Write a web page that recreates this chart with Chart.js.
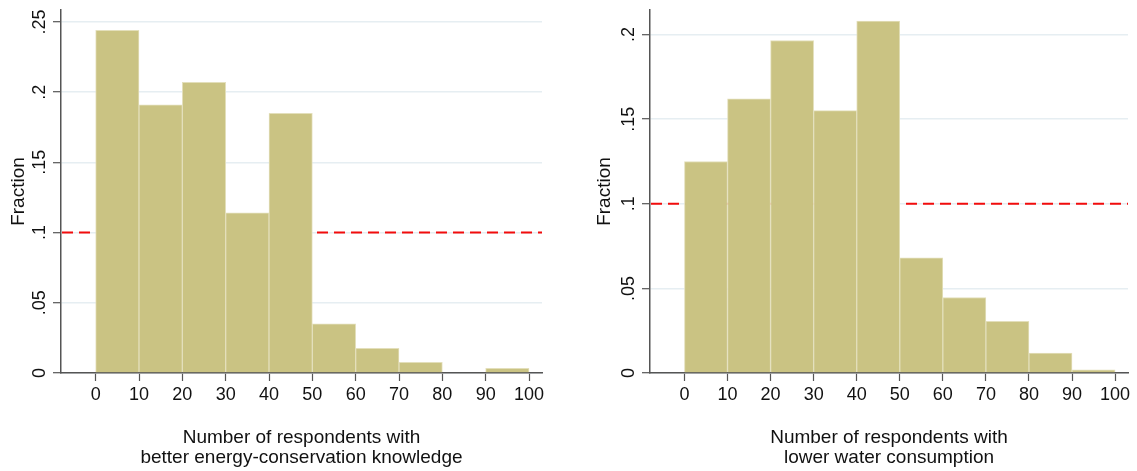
<!DOCTYPE html>
<html>
<head>
<meta charset="utf-8">
<script src="https://cdn.jsdelivr.net/npm/chart.js@4/dist/chart.umd.min.js"></script>
<style>
    body { margin: 0; background: #fff; }
    #wrap { position: relative; width: 1137px; height: 471px; }
    canvas { position: absolute; top: 0; }
</style>
</head>
<body>
<div id="wrap">
    <canvas id="energyChart" width="568" height="471" style="left:0"></canvas>
    <canvas id="waterChart" width="569" height="471" style="left:568px"></canvas>
</div>
<script>
// Histogram bins (lower edge of each 10-wide bin)
const binStarts = [0, 10, 20, 30, 40, 50, 60, 70, 80, 90];
const binWidth = 10;

// Fraction of respondents per bin
const energyFraction = [0.244, 0.191, 0.207, 0.114, 0.185, 0.035, 0.0175, 0.0076, 0, 0.0033];
const waterFraction = [0.125, 0.162, 0.1965, 0.155, 0.208, 0.068, 0.0446, 0.0305, 0.0118, 0.0018];

// Axis ticks
const xTicks = [0, 10, 20, 30, 40, 50, 60, 70, 80, 90, 100];
const energyYTicks = [0, 0.05, 0.1, 0.15, 0.2, 0.25];
const energyYLabels = ['0', '.05', '.1', '.15', '.2', '.25'];
const waterYTicks = [0, 0.05, 0.1, 0.15, 0.2];
const waterYLabels = ['0', '.05', '.1', '.15', '.2'];

// Reference line (dashed red)
const refLine = 0.1;

const axisColor = '#555555';
const gridColor = '#e6eef2';
const barFill = '#cac383';
const barEdge = '#e3dfbb';
const fontFamily = '"Liberation Sans", Arial, Helvetica, sans-serif';

// Dashed reference line behind the bars + rotated Stata-style y tick labels
const stataExtras = {
    id: 'stataExtras',
    beforeDatasetsDraw: function(chart, args, opts) {
        const ctx = chart.ctx;
        const area = chart.chartArea;
        const y = chart.scales.y.getPixelForValue(opts.refLine);
        ctx.save();
        ctx.strokeStyle = '#f20c0c';
        ctx.lineWidth = 2;
        ctx.setLineDash([11, 6]);
        ctx.beginPath();
        ctx.moveTo(area.left + 1, y);
        ctx.lineTo(area.right, y);
        ctx.stroke();
        ctx.restore();
    },
    afterDraw: function(chart, args, opts) {
        const ctx = chart.ctx;
        const yScale = chart.scales.y;
        const x = chart.chartArea.left - 21;
        ctx.save();
        ctx.fillStyle = '#111';
        ctx.font = '18px ' + fontFamily;
        ctx.textAlign = 'center';
        ctx.textBaseline = 'middle';
        opts.ticks.forEach(function(v, i) {
            ctx.save();
            ctx.translate(x, yScale.getPixelForValue(v));
            ctx.rotate(-Math.PI / 2);
            ctx.fillText(opts.labels[i], 0, 0);
            ctx.restore();
        });
        ctx.restore();
    }
};

function makeHistogram(canvasId, values, yTicks, yLabels, yMax, xTitle, yAxisWidth, yTitlePad, rightPad) {
    const ctx = document.getElementById(canvasId).getContext('2d');
    return new Chart(ctx, {
        type: 'bar',
        data: {
            datasets: [{
                data: binStarts.map(function(b, i) { return { x: b + binWidth / 2, y: values[i] }; }),
                backgroundColor: barFill,
                borderColor: barEdge,
                borderWidth: 1,
                borderSkipped: 'bottom',
                barPercentage: 1,
                categoryPercentage: 1
            }]
        },
        options: {
            responsive: false,
            animation: false,
            events: [],
            layout: { padding: { top: 10, right: rightPad, bottom: 0, left: 0 } },
            scales: {
                x: {
                    type: 'linear',
                    min: -8,
                    max: 103,
                    offset: false,
                    afterBuildTicks: function(scale) {
                        scale.ticks = xTicks.map(function(v) { return { value: v }; });
                    },
                    afterFit: function(scale) { scale.height = 98; },
                    grid: {
                        offset: false,
                        drawOnChartArea: false,
                        drawTicks: true,
                        tickLength: 8,
                        tickColor: axisColor,
                        tickWidth: 1.2
                    },
                    border: { color: axisColor, width: 1.5 },
                    ticks: {
                        color: '#111',
                        padding: 3,
                        maxRotation: 0,
                        font: { family: fontFamily, size: 18 }
                    },
                    title: {
                        display: true,
                        text: xTitle,
                        color: '#111',
                        padding: { top: 0, bottom: 3 },
                        font: { family: fontFamily, size: 19, lineHeight: 20 / 19 }
                    }
                },
                y: {
                    min: 0,
                    max: yMax,
                    afterBuildTicks: function(scale) {
                        scale.ticks = yTicks.map(function(v) { return { value: v }; });
                    },
                    afterFit: function(scale) { scale.width = yAxisWidth; },
                    grid: {
                        color: gridColor,
                        lineWidth: 1.4,
                        drawTicks: true,
                        tickLength: 8,
                        tickColor: axisColor,
                        tickWidth: 1.2
                    },
                    border: { color: axisColor, width: 1.5 },
                    ticks: { display: false },
                    title: {
                        display: true,
                        text: 'Fraction',
                        color: '#111',
                        padding: { top: yTitlePad, bottom: 0 },
                        font: { family: fontFamily, size: 19 }
                    }
                }
            },
            plugins: {
                legend: { display: false },
                tooltip: { enabled: false },
                stataExtras: { refLine: refLine, ticks: yTicks, labels: yLabels }
            }
        },
        plugins: [stataExtras]
    });
}

makeHistogram('energyChart', energyFraction, energyYTicks, energyYLabels, 0.2585,
    ['Number of respondents with', 'better energy-conservation knowledge'], 61, 7, 26);

makeHistogram('waterChart', waterFraction, waterYTicks, waterYLabels, 0.2145,
    ['Number of respondents with', 'lower water consumption'], 82, 25, 9);
</script>
</body>
</html>
